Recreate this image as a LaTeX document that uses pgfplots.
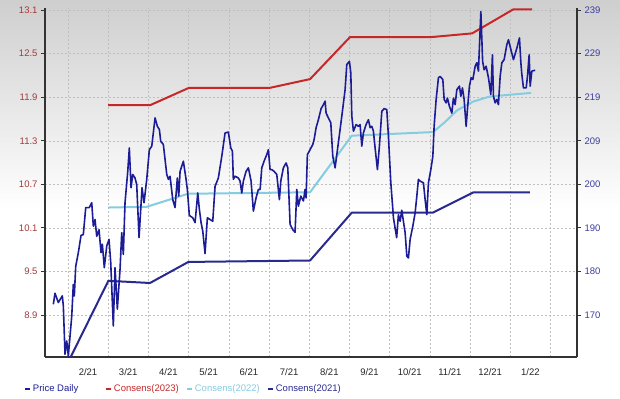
\documentclass[border=0pt]{standalone}
\usepackage{fontspec}
\setmainfont{Liberation Sans}
\usepackage{pgfplots}
\usepackage{pgfplotstable}
\pgfplotsset{compat=1.18}
\definecolor{price}{HTML}{1C1C96}
\definecolor{cA}{HTML}{C62828}
\definecolor{cB}{HTML}{86CCE0}
\definecolor{cC}{HTML}{2A2A8E}
\definecolor{leftlab}{HTML}{A33A3A}
\definecolor{rightlab}{HTML}{3C3CA0}
\definecolor{axline}{HTML}{333333}

% month index (2 = 2/21 ... 13 = 1/22), price
\pgfplotstableread{
m r
1.137 172.4
1.179 174.9
1.261 172.8
1.361 174.3
1.386 172.0
1.428 161.1
1.470 164.1
1.510 160.7
1.595 169.7
1.634 176.9
1.659 174.3
1.694 181.0
1.759 184.1
1.826 188.0
1.883 188.2
1.943 194.3
2.032 194.3
2.092 195.4
2.132 190.1
2.174 191.6
2.216 187.8
2.274 189.3
2.323 184.1
2.356 186.0
2.405 180.7
2.465 185.6
2.522 187.1
2.565 181.8
2.629 167.5
2.672 180.7
2.729 171.3
2.796 180.3
2.838 188.6
2.878 183.7
2.920 195.4
2.988 202.5
3.027 207.8
3.070 198.8
3.112 201.8
3.169 201.0
3.211 199.5
3.269 187.5
3.343 198.8
3.393 195.4
3.460 200.7
3.525 207.4
3.585 208.2
3.667 214.6
3.724 212.7
3.774 212.0
3.808 209.3
3.873 208.6
3.958 201.8
3.998 200.7
4.040 201.4
4.107 196.1
4.164 194.3
4.221 201.0
4.256 196.9
4.289 202.5
4.371 204.8
4.438 200.7
4.470 198.4
4.520 192.5
4.604 192.0
4.662 190.9
4.729 197.6
4.769 193.9
4.811 190.9
4.853 189.0
4.910 183.9
4.968 192.0
5.035 191.6
5.102 191.2
5.159 199.1
5.241 201.0
5.326 205.9
5.408 211.2
5.490 211.4
5.550 207.8
5.590 207.1
5.614 200.7
5.657 201.4
5.739 201.0
5.781 200.3
5.823 197.6
5.863 200.3
5.930 202.5
5.988 203.3
6.055 200.3
6.112 193.5
6.179 196.5
6.236 198.4
6.279 198.4
6.321 203.3
6.378 204.8
6.445 206.3
6.485 207.4
6.527 202.9
6.570 202.9
6.627 202.5
6.694 201.8
6.759 196.1
6.794 200.3
6.858 203.3
6.925 204.4
6.968 203.3
7.025 190.5
7.092 189.3
7.149 188.7
7.192 198.4
7.231 194.6
7.291 196.9
7.356 195.8
7.398 198.4
7.423 196.5
7.455 206.3
7.522 207.4
7.590 208.6
7.622 209.7
7.672 212.4
7.729 214.2
7.796 216.7
7.853 217.6
7.896 218.4
7.920 215.7
7.978 214.6
8.037 213.5
8.087 205.9
8.144 203.3
8.226 209.0
8.311 215.0
8.393 221.0
8.435 226.7
8.500 227.4
8.535 224.8
8.560 215.0
8.600 211.6
8.667 213.1
8.724 212.7
8.766 213.1
8.808 208.2
8.848 211.2
8.915 213.1
8.973 214.2
9.015 212.4
9.057 212.7
9.097 211.6
9.139 207.8
9.197 202.9
9.246 208.2
9.306 216.1
9.363 216.7
9.430 216.5
9.470 210.5
9.530 199.9
9.580 193.9
9.595 192.0
9.675 187.5
9.719 192.7
9.761 191.2
9.803 193.7
9.843 191.2
9.886 188.6
9.928 183.3
9.968 182.9
10.010 187.1
10.077 190.1
10.134 193.1
10.177 196.9
10.216 200.7
10.259 200.3
10.341 199.9
10.383 196.1
10.425 192.7
10.465 199.9
10.525 202.9
10.575 205.9
10.607 212.7
10.657 218.8
10.714 223.7
10.756 224.0
10.823 223.3
10.856 218.8
10.905 218.0
10.938 219.1
10.988 217.2
11.047 215.7
11.087 219.1
11.129 217.6
11.172 221.0
11.236 221.8
11.271 219.5
11.311 221.4
11.353 218.8
11.403 212.7
11.435 216.5
11.485 221.8
11.527 223.7
11.570 223.3
11.627 226.3
11.669 227.1
11.709 225.2
11.769 238.7
11.813 227.4
11.851 225.5
11.900 226.3
11.958 223.7
12.017 219.9
12.057 228.9
12.082 219.5
12.124 218.0
12.166 218.8
12.206 217.6
12.249 224.0
12.291 227.1
12.348 227.8
12.415 231.2
12.455 232.3
12.515 230.1
12.580 227.8
12.664 230.4
12.729 232.7
12.764 227.1
12.789 224.4
12.828 221.4
12.896 221.4
12.928 224.0
12.970 228.9
12.995 221.8
13.037 225.2
13.119 225.4
}\pricetab

\pgfplotstableread{
m v
2.498 11.79
3.542 11.79
4.512 12.03
6.527 12.03
7.522 12.15
8.517 12.73
10.557 12.73
11.552 12.78
12.572 13.11
13.045 13.11
}\consA

\pgfplotstableread{
m v
2.498 10.38
3.460 10.39
4.488 10.57
7.522 10.59
8.560 11.37
10.582 11.42
10.880 11.56
11.179 11.72
11.577 11.84
11.990 11.91
13.020 11.96
}\consB

\pgfplotstableread{
m v
1.552 8.30
2.505 9.37
3.542 9.34
4.495 9.63
7.522 9.65
8.560 10.31
10.575 10.31
11.585 10.59
12.990 10.59
}\consC

\begin{document}
\begin{tikzpicture}[font=\fontsize{9.5bp}{11bp}\selectfont]
\fill[white] (0,0) rectangle (620bp,399bp);
\shade[top color=black!19, bottom color=white] (0,190bp) rectangle (620bp,399bp);
\pgfplotsset{base/.style={
  width=532bp, height=349bp, scale only axis,
  at={(45bp,42bp)}, anchor=south west,
  xmin=0.93, xmax=14.16,
  /pgf/number format/assume math mode=true,
  axis line style={axline, line width=1.6bp},
  tick style={axline, line width=0.8bp},
  tick align=outside,
  major tick length=4bp, minor tick length=3bp,
}}
\begin{axis}[base,
  axis x line*=bottom, axis y line*=left,
  ymin=8.32, ymax=13.13,
  ytick={8.9,9.5,10.1,10.7,11.3,11.9,12.5,13.1},
  yticklabels={8.9,9.5,10.1,10.7,11.3,11.9,12.5,13.1},
  y tick label style={text=leftlab},
  x tick label style={text=black!85, yshift=-4bp},
  xtick={2,3,4,5,6,7,8,9,10,11,12,13},
  xticklabels={2/21,3/21,4/21,5/21,6/21,7/21,8/21,9/21,10/21,11/21,12/21,1/22},
  minor xtick={1.5,2.5,3.5,4.5,5.5,6.5,7.5,8.5,9.5,10.5,11.5,12.5,13.5},
  xtick style={draw=none},
  ymajorgrids, xminorgrids,
  major grid style={black!25, line width=0.5bp, dash pattern=on 2bp off 2bp},
  minor grid style={black!25, line width=0.5bp, dash pattern=on 2bp off 2bp},
]
\addplot[cA, line width=2bp, line join=round] table[x=m,y=v] {\consA};
\addplot[cB, line width=2bp, line join=round] table[x=m,y=v] {\consB};
\addplot[cC, line width=2bp, line join=round] table[x=m,y=v] {\consC};
\end{axis}
\begin{axis}[base,
  axis x line=none, axis y line*=right,
  ymin=160.47, ymax=239.49,
  ytick={170,179.857,189.714,199.571,209.429,219.286,229.143,239},
  yticklabels={170,180,190,200,209,219,229,239},
  minor y tick num=3,
  y tick label style={text=rightlab},
  legend columns=-1,
  legend style={at={(axis description cs:-0.04,-0.092)}, anchor=west,
    draw=none, fill=none, inner sep=0pt,
    font=\fontsize{9.5bp}{11bp}\selectfont},
  legend image code/.code={\draw[#1, line width=2bp] (0bp,0bp) -- (5bp,0bp);},
]
\addplot[price, line width=1.6bp, line join=round] table[x=m,y=r] {\pricetab};
\addlegendentry{\makebox[70bp][l]{\textcolor{price}{Price Daily}}}
\addlegendimage{cA}
\addlegendentry{\makebox[70bp][l]{\textcolor{cA}{Consens(2023)}}}
\addlegendimage{cB}
\addlegendentry{\makebox[70bp][l]{\textcolor{cB}{Consens(2022)}}}
\addlegendimage{cC}
\addlegendentry{\makebox[70bp][l]{\textcolor{cC}{Consens(2021)}}}
\end{axis}
\end{tikzpicture}
\end{document}
